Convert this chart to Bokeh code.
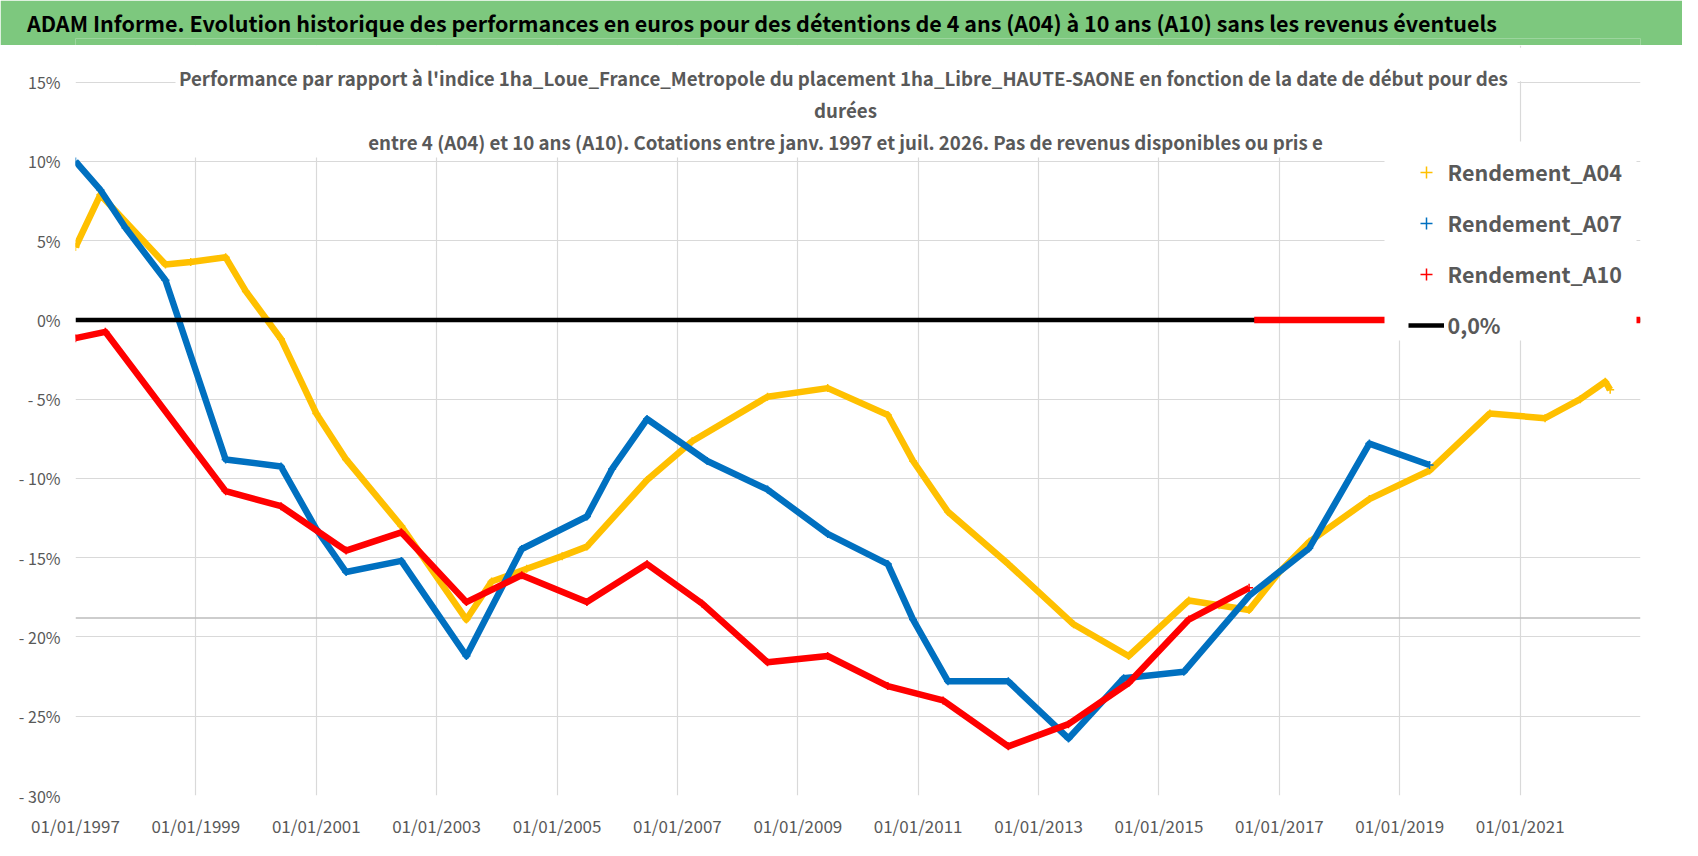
import pandas as pd
from bokeh.plotting import figure
from bokeh.layouts import column
from bokeh.models import (FixedTicker, DatetimeTickFormatter, Span, BoxAnnotation,
                          Label, Legend, LegendItem, Range1d, Title)
from bokeh.embed import file_html
from bokeh.resources import INLINE

FONT = "Noto Sans CJK SC"

TITLE = ("ADAM Informe. Evolution historique des performances en euros pour des "
         "détentions de 4 ans (A04) à 10 ans (A10) sans les revenus éventuels")
SUBTITLE_LINES = [
    "Performance par rapport à l'indice 1ha_Loue_France_Metropole  du placement "
    "1ha_Libre_HAUTE-SAONE en fonction de la date de début pour des",
    "durées",
    "entre 4 (A04) et 10 ans (A10). Cotations entre janv. 1997 et juil. 2026. "
    "Pas de revenus disponibles ou pris e",
]

# ---- data (start date of holding, relative performance in %) ----
A04_DATES = ["1997-01-01", "1997-06-01", "1998-07-01", "1998-12-01", "1999-07-01",
             "1999-11-01", "2000-03-01", "2000-06-01", "2001-01-01", "2001-07-01",
             "2002-06-01", "2003-07-01", "2003-12-01", "2004-07-01", "2005-02-01",
             "2005-07-01", "2006-07-01", "2007-04-01", "2008-07-01", "2009-07-01",
             "2010-07-01", "2010-12-01", "2011-07-01", "2012-07-01", "2013-08-01",
             "2014-07-01", "2015-07-01", "2016-01-01", "2016-07-01", "2017-01-01",
             "2017-07-01", "2018-07-01", "2019-07-01", "2020-07-01", "2021-06-01",
             "2022-01-01", "2022-06-01", "2022-07-01"]
A04_VALUES = [4.6, 7.9, 3.5, 3.65, 3.95,
              1.8, 0.1, -1.2, -5.9, -8.8,
              -13.0, -18.9, -16.5, -15.7, -14.9,
              -14.3, -10.1, -7.65, -4.85, -4.3,
              -6.0, -8.9, -12.1, -15.4, -19.2,
              -21.2, -17.7, -18.0, -18.3, -15.9,
              -14.0, -11.3, -9.5, -5.9, -6.2,
              -5.0, -3.9, -4.4]

A07_DATES = ["1997-01-01", "1997-06-01", "1997-11-01", "1998-07-01", "1999-07-01",
             "2000-06-01", "2001-01-01", "2001-07-01", "2002-06-01", "2003-07-01",
             "2004-06-01", "2005-07-01", "2005-12-01", "2006-07-01", "2007-07-01",
             "2008-07-01", "2009-07-01", "2010-07-01", "2010-12-01", "2011-07-01",
             "2012-07-01", "2013-07-01", "2014-06-01", "2015-06-01", "2016-07-01",
             "2017-07-01", "2018-07-01", "2019-07-01"]
A07_VALUES = [10.0, 8.2, 5.8, 2.5, -8.8,
              -9.25, -13.2, -15.9, -15.2, -21.2,
              -14.45, -12.4, -9.4, -6.25, -8.9,
              -10.7, -13.5, -15.4, -18.9, -22.8,
              -22.8, -26.4, -22.6, -22.2, -17.4,
              -14.4, -7.8, -9.15]

A10_DATES = ["1997-01-01", "1997-07-01", "1999-07-01", "2000-06-01", "2001-07-01",
             "2002-06-01", "2003-07-01", "2004-06-01", "2005-07-01", "2006-07-01",
             "2007-06-01", "2008-07-01", "2009-07-01", "2010-07-01", "2011-06-01",
             "2012-07-01", "2013-07-01", "2014-07-01", "2015-07-01", "2016-07-01"]
A10_VALUES = [-1.15, -0.75, -10.8, -11.75, -14.55,
              -13.4, -17.8, -16.1, -17.8, -15.4,
              -17.9, -21.6, -21.2, -23.1, -24.0,
              -26.9, -25.5, -22.9, -18.9, -16.9]

# A10 has no value after July 2016: plotted as 0
A10_ZERO_DATES = ["2016-08-01", "2022-12-31"]
A10_ZERO_VALUES = [0.0, 0.0]

ZERO_DATES = ["1997-01-01", "2022-12-31"]
ZERO_VALUES = [0.0, 0.0]

REF_LEVEL = -18.8  # grey horizontal reference line

X_START, X_END = "1997-01-01", "2023-01-01"
X_TICKS = ["1997-01-01", "1999-01-01", "2001-01-01", "2003-01-01", "2005-01-01",
           "2007-01-01", "2009-01-01", "2011-01-01", "2013-01-01", "2015-01-01",
           "2017-01-01", "2019-01-01", "2021-01-01"]
Y_TICKS = [15, 10, 5, 0, -5, -10, -15, -20, -25, -30]
Y_TICK_LABELS = ["15%", "10%", "5%", "0%", "- 5%", "- 10%", "- 15%", "- 20%", "- 25%", "- 30%"]

SERIES_NAMES = ["Rendement_A04", "Rendement_A07", "Rendement_A10", "0,0%"]
COLORS = ["#FFC000", "#0070C0", "#FF0000", "#000000"]

W = 1682
HEAD_H = 45
MAIN_H = 795
BL, BR = 75, 42   # left / right borders shared by both figures
GREEN = "#7DC87E"

# ---------------- header band ----------------
head = figure(width=W, height=HEAD_H, output_backend="svg", toolbar_location=None,
              x_range=Range1d(0, 1), y_range=Range1d(0, 1),
              x_axis_location=None, y_axis_location=None,
              min_border_left=BL, min_border_right=BR, min_border_top=38,
              min_border_bottom=0,
              background_fill_color=GREEN, border_fill_color=GREEN)
head.outline_line_color = None
head.grid.visible = False
head.add_layout(Title(text=TITLE, align="left", offset=26.5 - BL, standoff=0,
                      vertical_align="middle",
                      text_font=FONT, text_font_size="21.5px", text_font_style="bold",
                      text_color="black"), "above")

# ---------------- main chart ----------------
PX_PER_PCT = 16.0
Y_TOP = max(Y_TICKS) + 37 / PX_PER_PCT   # chart area continues above 15 % for the titles
p = figure(width=W, height=MAIN_H, x_axis_type="datetime", output_backend="svg",
           toolbar_location=None,
           x_range=Range1d(pd.Timestamp(X_START), pd.Timestamp(X_END)),
           y_range=Range1d(min(Y_TICKS), Y_TOP),
           min_border_left=BL, min_border_right=BR, min_border_top=0, min_border_bottom=38)
p.background_fill_color = "white"
p.border_fill_color = "white"
p.outline_line_color = None

x_tick_ms = [pd.Timestamp(d).value // 10**6 for d in X_TICKS]
p.xaxis.ticker = FixedTicker(ticks=x_tick_ms)
fmt = "%d/%m/%Y"
p.xaxis.formatter = DatetimeTickFormatter(days=fmt, months=fmt, years=fmt, hours=fmt,
                                          hourmin=fmt, minutes=fmt, minsec=fmt,
                                          seconds=fmt, milliseconds=fmt, microseconds=fmt)
p.yaxis.ticker = FixedTicker(ticks=Y_TICKS)
p.yaxis.major_label_overrides = {v: t for v, t in zip(Y_TICKS, Y_TICK_LABELS)}

for ax in (p.xaxis[0], p.yaxis[0]):
    ax.axis_line_color = None
    ax.major_tick_line_color = None
    ax.minor_tick_line_color = None
    ax.major_tick_out = 0
    ax.major_tick_in = 0
    ax.major_label_text_font = FONT
    ax.major_label_text_color = "#595959"
p.xaxis.major_label_text_font_size = "17px"
p.yaxis.major_label_text_font_size = "16px"
p.xaxis.major_label_standoff = 17
p.yaxis.major_label_standoff = 15

p.xgrid.grid_line_color = "#D9D9D9"
p.ygrid.grid_line_color = "#D9D9D9"
p.xgrid.grid_line_width = 1.2
p.ygrid.grid_line_width = 1.2

p.add_layout(Span(location=REF_LEVEL, dimension="width", line_color="#BDBDBD",
                  line_width=1.6, level="underlay"))

def dts(lst):
    return pd.to_datetime(lst)

renderers = {}
for name, dates, vals, col in [
        (SERIES_NAMES[0], A04_DATES, A04_VALUES, COLORS[0]),
        (SERIES_NAMES[1], A07_DATES, A07_VALUES, COLORS[1]),
        (SERIES_NAMES[2], A10_DATES, A10_VALUES, COLORS[2])]:
    p.line(dts(dates), vals, line_color=col, line_width=6.5, line_join="round")
    renderers[name] = p.scatter(dts(dates), vals, marker="cross", size=8,
                                line_color=col, line_width=1.5)

zero_r = p.line(dts(ZERO_DATES), ZERO_VALUES, line_color=COLORS[3], line_width=4.5)
p.line(dts(A10_ZERO_DATES), A10_ZERO_VALUES, line_color=COLORS[2], line_width=6.5)
renderers[SERIES_NAMES[3]] = zero_r

# ---- decorations in frame-relative screen units (y up from frame bottom) ----
def sx(x):  # page x -> frame screen x
    return x - BL
def sy(y):  # page y -> frame screen y
    return 802 - y

def sbox(l, r, t, b, color):
    return BoxAnnotation(left=sx(l), right=sx(r), top=sy(t), bottom=sy(b),
                         left_units="screen", right_units="screen",
                         top_units="screen", bottom_units="screen",
                         fill_color=color, fill_alpha=1.0, line_color=None)

# thin separator under the header band
p.add_layout(sbox(0, 1700, 45, 47, "#E3E3E3"))
# nothing of the grid shows above the 15 % line
p.add_layout(BoxAnnotation(bottom=max(Y_TICKS) + 0.06, top=Y_TOP - 2.2 / PX_PER_PCT,
                           fill_color="white", fill_alpha=1.0, line_color=None))
# chart title box (hides grid lines) + three lines of text
p.add_layout(sbox(175, 1517, 48, 164, "white"))
for txt, y in zip(SUBTITLE_LINES, [84, 115.5, 147.5]):
    p.add_layout(Label(x=sx(845), y=sy(y), x_units="screen", y_units="screen", text=txt,
                       text_font=FONT, text_font_size="18.7px", text_font_style="bold",
                       text_color="#595959", text_align="center", text_baseline="middle"))

# legend backdrop
p.add_layout(sbox(1384, 1636, 148, 347, "white"))

legend = Legend(items=[LegendItem(label=n, renderers=[renderers[n]]) for n in SERIES_NAMES],
                location=(sx(1407.5), sy(347)),
                glyph_width=36, glyph_height=30, label_height=30, spacing=20,
                padding=9, margin=0, label_standoff=4,
                background_fill_color="white", background_fill_alpha=1.0,
                border_line_color=None,
                label_text_font=FONT, label_text_font_size="21.5px",
                label_text_font_style="bold", label_text_color="#595959")
p.add_layout(legend)

layout = column(head, p, spacing=0)
open("out.html", "w").write(file_html(layout, INLINE))
